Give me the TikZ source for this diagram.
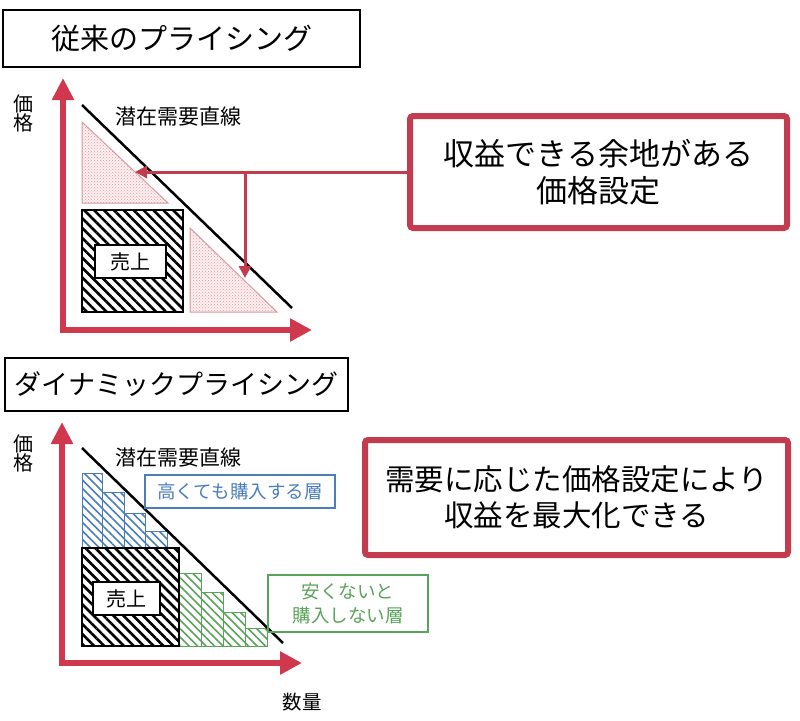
\documentclass[tikz,border=0pt]{standalone}
\usepackage{fontspec}
\setmainfont{Noto Sans CJK JP}
\usetikzlibrary{arrows.meta,patterns,patterns.meta}
\definecolor{axisred}{HTML}{D0384E}
\definecolor{boxred}{HTML}{C23B4F}
\definecolor{layerblue}{HTML}{4A7EBB}
\definecolor{layergreen}{HTML}{5AA35A}
\definecolor{dotpink}{HTML}{D89AA4}
\begin{document}
\begin{tikzpicture}[x=1pt,y=-1pt]
\tikzset{titlebox/.style={draw, line width=2pt, inner sep=0pt},
  gainbox/.style={draw=boxred, line width=6pt, rounded corners=3pt, align=center, inner sep=0pt},
  layerbox/.style={draw, line width=1.5pt, align=center, inner sep=0pt},
  salesbox/.style={draw, fill=white, line width=1.2pt, inner sep=0pt, minimum height=33pt},
  axis/.style={axisred, line width=6pt, line join=miter, {Triangle[length=22pt,width=21pt]}-{Triangle[length=22pt,width=22pt]}},
  pointer/.style={boxred, line width=3pt, -{Triangle[length=12pt,width=12pt]}},
  demand/.style={line width=2.5pt},
  hatch/.style={draw, line width=1.5pt, pattern={Lines[angle=-45,distance=7pt,line width=2.6pt]}, pattern color=black},
  bluecol/.style={draw=layerblue, line width=1pt, pattern={Lines[angle=-45,distance=6pt,line width=1.6pt]}, pattern color=layerblue},
  greencol/.style={draw=layergreen, line width=1pt, pattern={Lines[angle=-45,distance=6pt,line width=1.6pt]}, pattern color=layergreen},
  surplus/.style={draw=dotpink, line width=1pt, fill=red!6, postaction={pattern=crosshatch dots, pattern color=dotpink}},
  txt/.style={inner sep=0pt}}
\useasboundingbox (0,0) rectangle (800,720);
\node[titlebox, minimum width=357pt, minimum height=57pt, font=\fontsize{29}{34}\selectfont] (title1) at (181.5,38.5) {従来のプライシング};
\node[txt, align=center, font=\fontsize{20}{19}\selectfont] (price1) at (23,113) {価\\格};
\coordinate (Y1) at (63,78);
\coordinate (O1) at (63,330);
\coordinate (X1) at (312,330);
\draw[axis] (Y1) -- (O1) -- (X1);
\draw[surplus] (82,122) -- (82,203) -- (168,203) -- cycle;
\draw[surplus] (190,228) -- (190,312) -- (277,312) -- cycle;
\draw[hatch] (82,210) rectangle (183,312);
\node[salesbox, minimum width=71pt, font=\fontsize{20}{24}\selectfont] (sales1) at (130.5,261.5) {売上};
\draw[demand] (82,105) -- (292,308);
\node[txt, anchor=west, font=\fontsize{21}{25}\selectfont] (line1) at (115,117) {潜在需要直線};
\node[gainbox, minimum width=377pt, minimum height=112pt, font=\fontsize{31}{37}\selectfont] (gain) at (598.5,172) {収益できる余地がある\\価格設定};
\coordinate (upTip) at (135,172);
\coordinate (split) at (245,172);
\coordinate (downTip) at (245,278);
\draw[pointer] (gain.west) -- (upTip);
\draw[pointer] (split) -- (downTip);
\node[titlebox, minimum width=343pt, minimum height=53pt, font=\fontsize{27}{32}\selectfont] (title2) at (176.5,384) {ダイナミックプライシング};
\node[txt, align=center, font=\fontsize{20}{19}\selectfont] (price2) at (23,453) {価\\格};
\coordinate (Y2) at (62,422);
\coordinate (O2) at (62,663);
\coordinate (X2) at (302,663);
\draw[axis] (Y2) -- (O2) -- (X2);
\draw[bluecol] (82,473) rectangle (102,548);
\draw[bluecol] (102,492) rectangle (124,548);
\draw[bluecol] (124,513) rectangle (145,548);
\draw[bluecol] (145,531) rectangle (167,548);
\draw[greencol] (179,573) rectangle (201,646);
\draw[greencol] (201,592) rectangle (223,646);
\draw[greencol] (223,612) rectangle (245,646);
\draw[greencol] (245,628) rectangle (267,646);
\draw[hatch] (82,548) rectangle (179,646);
\node[salesbox, minimum width=67pt, font=\fontsize{20}{24}\selectfont] (sales2) at (126.5,598.5) {売上};
\draw[demand] (82,448) -- (283,643);
\node[txt, anchor=west, font=\fontsize{21}{25}\selectfont] (line2) at (115,458) {潜在需要直線};
\node[layerbox, draw=layerblue, text=layerblue, minimum width=190pt, minimum height=33pt, font=\fontsize{18.5}{22}\selectfont] (high) at (240,491.5) {高くても購入する層};
\node[layerbox, draw=layergreen, text=layergreen, minimum width=160pt, minimum height=57pt, font=\fontsize{18.5}{24}\selectfont] (low) at (348,603.5) {安くないと\\購入しない層};
\node[gainbox, minimum width=423pt, minimum height=115pt, font=\fontsize{29.5}{36}\selectfont] (maxgain) at (576.5,497.5) {需要に応じた価格設定により\\収益を最大化できる};
\node[txt, font=\fontsize{19.5}{23}\selectfont] (qty) at (302,702) {数量};
\end{tikzpicture}
\end{document}
